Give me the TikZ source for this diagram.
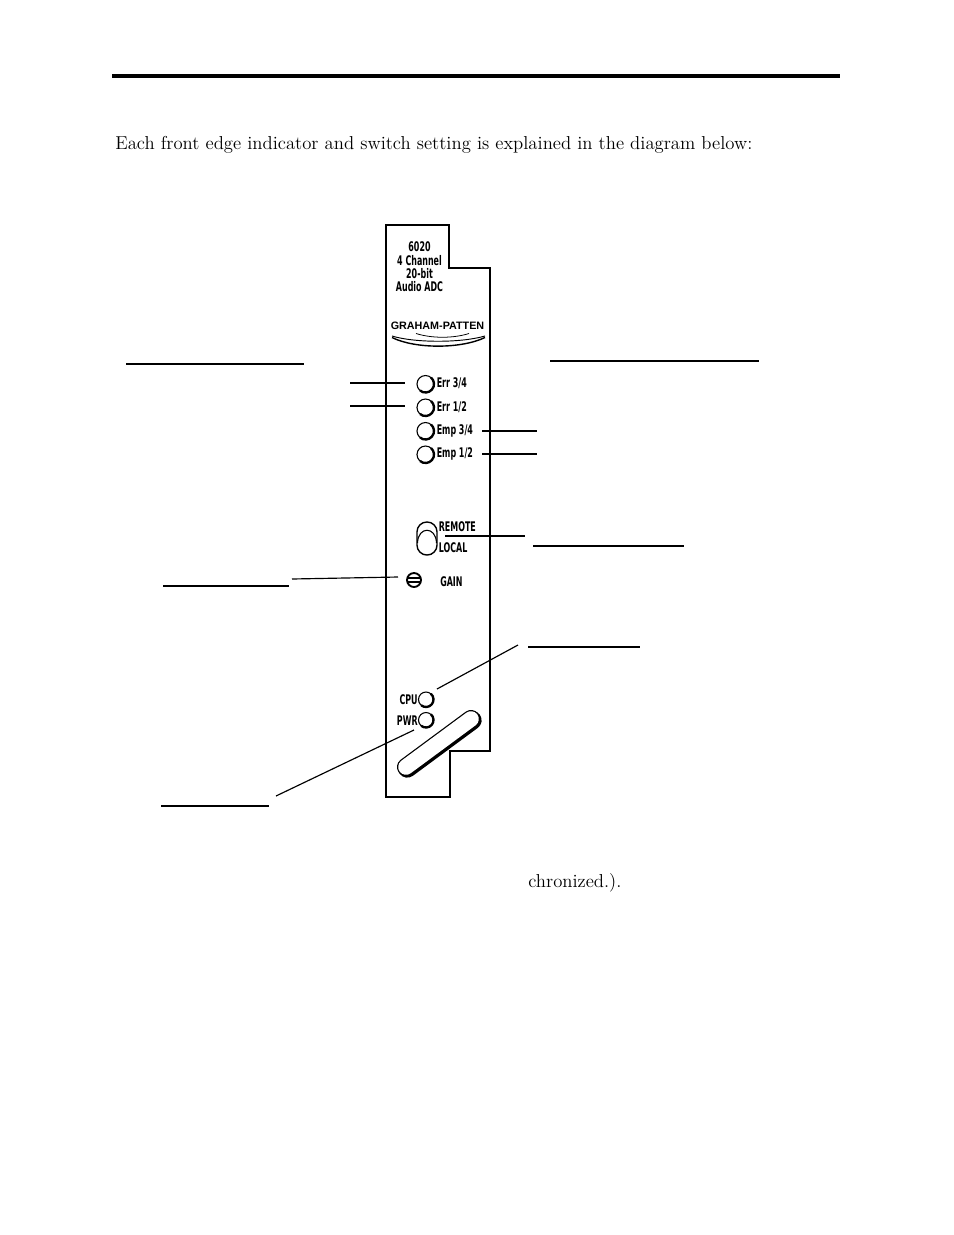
\documentclass[tikz,border=0pt]{standalone}
\usepackage{fontspec}
\newfontfamily\cardfont{DejaVu Sans}[FakeStretch=0.6]
\newfontfamily\logofont{Liberation Sans}
\usetikzlibrary{calc}
\tikzset{
  panel/.style={line width=1.3pt, line join=miter},
  leader/.style={line width=0.75pt},
  blankline/.style={line width=0.9pt},
  cardlabel/.style={font=\cardfont\bfseries\fontsize{8.5}{8.55}\selectfont, inner sep=0pt},
  bodytext/.style={font=\fontsize{12}{14}\selectfont, inner sep=0pt, anchor=base west},
}
\def\frontled(#1,#2)(#3){\draw[line width=0.7pt] (#1,#2) circle (#3); \draw[line width=1.5pt] (#1,#2) ++(-50:#3) arc (-50:130:#3);}

\begin{document}
\begin{tikzpicture}[x=0.6415pt,y=-0.6415pt]
			%%%%% PAGE %%%%%
			\fill[white] (0,0) rectangle (954,1235);
			\useasboundingbox (0,0) rectangle (954,1235);
			
			\draw[line width=2pt] (112,76) -- (840,76);
			\node[bodytext] (intro) at (115,149) {Each front edge indicator and switch setting is explained in the diagram below:};
			\node[bodytext] (tail) at (528,887) {chronized.).};
			
			%%%%% CARD %%%%%
			\draw[panel] (386,225) -- (449,225) -- (449,268) -- (490,268) -- (490,751) -- (450,751) -- (450,797) -- (386,797) -- cycle;
			\node[cardlabel, align=center] (title) at (419.5,267) {6020\\4 Channel\\20-bit\\Audio ADC};
			\node[inner sep=0pt, font=\logofont\bfseries\fontsize{6.9}{7}\selectfont] (logo) at (437.5,326) {GRAHAM-PATTEN};
			\draw[line width=0.5pt] (416,333.5) .. controls (432,338.5) and (453,338.5) .. (469,333.5);
			\draw[line width=0.6pt] (392,336) .. controls (415,343) and (461,343) .. (485,336);
			\draw[line width=0.9pt] (392,337.5) .. controls (415,349) and (461,349) .. (485,337.5);
			
			%%%%% LEDS %%%%%
			\coordinate (err34) at (425.5,384);
			\coordinate (err12) at (425.5,407.5);
			\coordinate (emp34) at (425.5,431);
			\coordinate (emp12) at (425.5,454.5);
			\frontled(425.5,384)(8.5);
			\frontled(425.5,407.5)(8.5);
			\frontled(425.5,431)(8.5);
			\frontled(425.5,454.5)(8.5);
			\node[cardlabel, anchor=west] (err34 lab) at (436.5,383.5) {Err 3/4};
			\node[cardlabel, anchor=west] (err12 lab) at (436.5,407) {Err 1/2};
			\node[cardlabel, anchor=west] (emp34 lab) at (436.5,430.5) {Emp 3/4};
			\node[cardlabel, anchor=west] (emp12 lab) at (436.5,454) {Emp 1/2};
			
			\coordinate (err34 end) at (350,383);
			\coordinate (err34 tip) at (405,383);
			\coordinate (err12 end) at (350,406);
			\coordinate (err12 tip) at (405,406);
			\coordinate (emp34 tip) at (482,431);
			\coordinate (emp34 end) at (537,431);
			\coordinate (emp12 tip) at (482,454);
			\coordinate (emp12 end) at (537,454);
			\draw[leader] (err34 end) -- (err34 tip);
			\draw[leader] (err12 end) -- (err12 tip);
			\draw[leader] (emp34 tip) -- (emp34 end);
			\draw[leader] (emp12 tip) -- (emp12 end);
			
			%%%%% SWITCH AND GAIN %%%%%
			\draw[line width=0.9pt, rounded corners=6.3pt] (417,522) rectangle (437,555);
			\draw[line width=0.7pt] (417.5,543) .. controls (418,526) and (436,526) .. (436.5,543);
			\node[cardlabel, anchor=west] (remote) at (438.5,526.5) {REMOTE};
			\node[cardlabel, anchor=west] (local) at (438.5,547.5) {LOCAL};
			\coordinate (switch) at (445,536);
			\coordinate (switch end) at (525,536);
			\draw[leader] (switch) -- (switch end);
			
			\coordinate (gain) at (414,580);
			\draw[line width=1.2pt] (gain) circle (7);
			\draw[line width=0.8pt] (408,578) -- (420,578) (408,582) -- (420,582);
			\node[cardlabel, anchor=west] (gain lab) at (440,581.5) {GAIN};
			\coordinate (gain end) at (292,579);
			\coordinate (gain tip) at (398,577);
			\draw[leader] (gain end) -- (gain tip);
			
			%%%%% CPU / PWR %%%%%
			\coordinate (cpu) at (426,699.5);
			\coordinate (pwr) at (426,720);
			\frontled(426,699.5)(7.5);
			\frontled(426,720)(7.5);
			\node[cardlabel, anchor=east] (cpu lab) at (418,700) {CPU};
			\node[cardlabel, anchor=east] (pwr lab) at (418,720.5) {PWR};
			\coordinate (cpu end) at (518,645);
			\coordinate (cpu tip) at (437,689);
			\coordinate (pwr end) at (276,796);
			\coordinate (pwr tip) at (414,730);
			\draw[leader] (cpu end) -- (cpu tip);
			\draw[leader] (pwr end) -- (pwr tip);
			
			%%%%% SLOT %%%%%
			\coordinate (slot lo) at (406,767);
			\coordinate (slot hi) at (471,719);
			\draw[line width=12pt, line cap=round] ($(slot lo)+(1.3,1.3)$) -- ($(slot hi)+(1.3,1.3)$);
			\draw[line width=11.6pt, line cap=round] (slot lo) -- (slot hi);
			\draw[white, line width=10pt, line cap=round] (slot lo) -- (slot hi);
			
			%%%%% BLANK LABELS %%%%%
			\draw[blankline] (126,364) -- (304,364);
			\draw[blankline] (550,361) -- (759,361);
			\draw[blankline] (533,546) -- (684,546);
			\draw[blankline] (163,586) -- (289,586);
			\draw[blankline] (528,647) -- (640,647);
			\draw[blankline] (161,806) -- (269,806);
			
			%%%%% END %%%%%
\end{tikzpicture}
\end{document}
